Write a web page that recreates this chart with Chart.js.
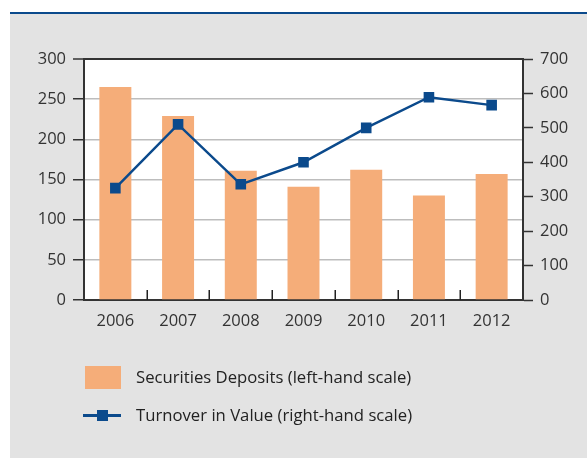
<!DOCTYPE html>
<html>
<head>
<meta charset="utf-8">
<script src="https://cdn.jsdelivr.net/npm/chart.js@4.4.1/dist/chart.umd.min.js"></script>
<style>
  html, body { margin: 0; padding: 0; background: #ffffff; }
  #page { position: relative; width: 587px; height: 458px; overflow: hidden; }
  #panel { position: absolute; left: 10px; top: 14px; right: 0; bottom: 0; background: #e3e3e3; }
  #rule { position: absolute; left: 10px; top: 12px; right: 0; height: 2px; background: #0b4a8c; }
  #chart { position: absolute; left: 0; top: 0; }
  #legend { position: absolute; left: 0; top: 0; width: 587px; height: 458px; pointer-events: none;
            font-family: "Open Sans", "Noto Sans", sans-serif; font-size: 16.7px; color: #222; }
  .lg-item { position: absolute; left: 83px; height: 24px; line-height: 24px; white-space: nowrap; }
  .lg-sym { position: absolute; left: 0; top: 0; width: 38px; height: 24px; }
  .lg-text { position: absolute; left: 53px; top: 0; }
</style>
</head>
<body>
<div id="page">
  <div id="panel"></div>
  <div id="rule"></div>
  <canvas id="chart" width="587" height="458"></canvas>
  <div id="legend"></div>
</div>
<script>
// Years on the category axis
const years = ['2006', '2007', '2008', '2009', '2010', '2011', '2012'];
// Securities deposits, read on the left-hand scale
const securitiesDeposits = [265, 229, 161, 141, 162, 130, 157];
// Turnover in value, read on the right-hand scale
const turnoverValue = [325, 510, 336, 400, 500, 589, 566];
// Axis ranges and tick steps
const leftScale = { min: 0, max: 300, step: 50 };
const rightScale = { min: 0, max: 700, step: 100 };

const depositLabel = 'Securities Deposits (left-hand scale)';
const turnoverLabel = 'Turnover in Value (right-hand scale)';

const barColor = '#f5ad79';
const lineColor = '#0b4a8c';
const axisColor = '#333333';
const gridColor = '#bdbdbd';
const tickFont = { family: '"Open Sans", "Noto Sans", sans-serif', size: 16.5 };

// White plot background inside the axes
const plotBackground = {
  id: 'plotBackground',
  beforeDraw(chart) {
    const { ctx, chartArea: a } = chart;
    ctx.save();
    ctx.fillStyle = '#ffffff';
    ctx.fillRect(a.left, a.top, a.right - a.left, a.bottom - a.top);
    ctx.restore();
  }
};

// Short upward tick marks between the year categories
const categoryTicks = {
  id: 'categoryTicks',
  afterDraw(chart) {
    const { ctx, chartArea: a } = chart;
    const xs = chart.scales.x;
    ctx.save();
    ctx.strokeStyle = '#222222';
    ctx.lineWidth = 1.5;
    for (let i = 1; i < years.length; i++) {
      const px = Math.round((xs.getPixelForValue(i - 1) + xs.getPixelForValue(i)) / 2) + 0.25;
      ctx.beginPath();
      ctx.moveTo(px, a.bottom);
      ctx.lineTo(px, a.bottom - 10);
      ctx.stroke();
    }
    ctx.restore();
  }
};

const chart = new Chart(document.getElementById('chart'), {
  data: {
    labels: years,
    datasets: [
      {
        type: 'bar',
        label: depositLabel,
        data: securitiesDeposits,
        yAxisID: 'y',
        backgroundColor: barColor,
        borderWidth: 0,
        barPercentage: 0.51,
        categoryPercentage: 1,
        order: 1
      },
      {
        type: 'line',
        label: turnoverLabel,
        data: turnoverValue,
        yAxisID: 'y2',
        borderColor: lineColor,
        borderWidth: 2.5,
        tension: 0,
        pointStyle: 'rect',
        pointRadius: 7.5,
        pointBackgroundColor: lineColor,
        pointBorderWidth: 0,
        order: 0
      }
    ]
  },
  options: {
    responsive: false,
    animation: false,
    layout: { padding: { left: 0, right: 0, top: 59, bottom: 0 } },
    plugins: { legend: { display: false }, tooltip: { enabled: false } },
    scales: {
      x: {
        type: 'category',
        offset: true,
        grid: { display: true, drawOnChartArea: false, drawTicks: false, color: 'rgba(0,0,0,0)' },
        border: { display: true, color: axisColor, width: 2 },
        ticks: { color: axisColor, font: tickFont, padding: 11, maxRotation: 0 },
        afterFit(s) { s.height = 158; }
      },
      y: {
        position: 'left',
        min: leftScale.min,
        max: leftScale.max,
        ticks: { stepSize: leftScale.step, color: axisColor, font: tickFont, padding: 7 },
        grid: {
          color: c => (c.tick && c.tick.value === leftScale.max ? axisColor : gridColor),
          lineWidth: c => (c.tick && c.tick.value === leftScale.max ? 2 : 1.5),
          tickColor: axisColor,
          tickLength: 11,
          tickWidth: 1.5
        },
        border: { display: true, color: axisColor, width: 2 },
        afterFit(s) { s.width = 84; }
      },
      y2: {
        position: 'right',
        min: rightScale.min,
        max: rightScale.max,
        ticks: { stepSize: rightScale.step, color: axisColor, font: tickFont, padding: 7 },
        grid: { drawOnChartArea: false, tickColor: axisColor, tickLength: 10, tickWidth: 1.5 },
        border: { display: true, color: axisColor, width: 2 },
        afterFit(s) { s.width = 64; }
      }
    }
  },
  plugins: [plotBackground, categoryTicks]
});

// Legend built from the chart's datasets
(function buildLegend() {
  const host = document.getElementById('legend');
  const centers = [377, 415];
  chart.data.datasets.forEach((ds, i) => {
    const item = document.createElement('div');
    item.className = 'lg-item';
    item.style.top = (centers[i] - 12) + 'px';
    const sym = document.createElement('div');
    sym.className = 'lg-sym';
    if (ds.type === 'bar') {
      sym.innerHTML = '<div style="position:absolute;left:2px;top:1px;width:36px;height:23px;background:' + ds.backgroundColor + '"></div>';
    } else {
      sym.innerHTML =
        '<div style="position:absolute;left:0;top:11px;width:38px;height:2.5px;background:' + ds.borderColor + '"></div>' +
        '<div style="position:absolute;left:14px;top:6.5px;width:11px;height:11px;background:' + ds.pointBackgroundColor + '"></div>';
    }
    const text = document.createElement('span');
    text.className = 'lg-text';
    text.textContent = ds.label;
    item.appendChild(sym);
    item.appendChild(text);
    host.appendChild(item);
  });
})();
</script>
</body>
</html>
